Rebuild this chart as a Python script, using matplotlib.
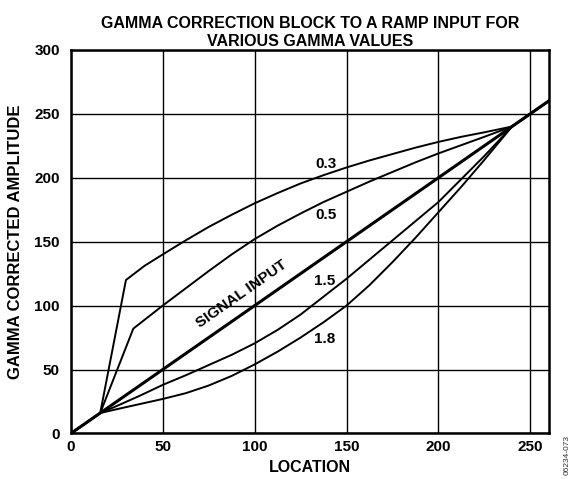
import matplotlib
matplotlib.use("Agg")
import matplotlib.pyplot as plt

plt.rcParams['font.family'] = ['Liberation Sans', 'DejaVu Sans']
plt.rcParams['font.weight'] = 'bold'

# ramp input
sig_x = [0, 260]
sig_y = [0, 260]

# gamma = 0.3
g03_x = [0, 16, 30, 40, 50, 62.5, 75, 87.5, 100, 112.5, 125, 137.5, 150,
         162.5, 175, 187.5, 200, 212.5, 225, 240, 260]
g03_y = [0, 16, 120, 131, 140, 151, 161.5, 171, 180, 188, 195.5, 202, 208,
         213.5, 218.5, 223.5, 228, 232, 235.5, 240, 260]

# gamma = 0.5
g05_x = [0, 16, 34, 50, 62.5, 75, 87.5, 100, 112.5, 125, 137.5, 150,
         162.5, 175, 187.5, 200, 212.5, 225, 240, 260]
g05_y = [0, 16, 82, 100, 113.5, 127, 140, 152, 162.5, 172, 181, 189,
         197, 204.5, 212, 219, 225.5, 232, 240, 260]

# gamma = 1.5
g15_x = [0, 16, 25, 37.5, 50, 62.5, 75, 87.5, 100, 112.5, 125, 137.5, 150,
         162.5, 175, 187.5, 200, 212.5, 225, 240, 260]
g15_y = [0, 16, 21.5, 29.5, 38, 45.5, 53.5, 61.5, 70.5, 81, 93, 107, 121,
         136, 151, 166, 181, 199, 217, 240, 260]

# gamma = 1.8
g18_x = [0, 16, 25, 37.5, 50, 62.5, 75, 87.5, 100, 112.5, 125, 137.5, 150,
         162.5, 175, 187.5, 200, 212.5, 225, 240, 260]
g18_y = [0, 16, 19, 23, 27, 31.5, 37.5, 45, 54, 64, 75, 87, 100,
         116, 134, 153, 173, 193, 214, 240, 260]

xticks = [0, 50, 100, 150, 200, 250]
yticks = [0, 50, 100, 150, 200, 250, 300]

fig = plt.figure(figsize=(5.71, 4.79), dpi=100)
ax = fig.add_axes([0.124, 0.095, 0.837, 0.801])

for xs, ys in [(g03_x, g03_y), (g05_x, g05_y), (g15_x, g15_y), (g18_x, g18_y)]:
    ax.plot(xs, ys, color='black', lw=1.4, zorder=3, solid_joinstyle='round')
ax.plot(sig_x, sig_y, color='black', lw=2.2, zorder=4)

ax.set_xlim(0, 260)
ax.set_ylim(0, 300)
ax.set_xticks(xticks)
ax.set_yticks(yticks)
ax.tick_params(length=0, labelsize=11)
ax.tick_params(axis='x', pad=5)
ax.tick_params(axis='y', pad=8)
for lab in ax.get_xticklabels() + ax.get_yticklabels():
    lab.set_fontweight('bold')
ax.grid(True, color='black', lw=1.0)
ax.set_axisbelow(True)
for s in ax.spines.values():
    s.set_linewidth(1.8)

ax.set_xlabel('LOCATION', fontsize=11.5, fontweight='bold', labelpad=4)
ax.set_ylabel('GAMMA CORRECTED AMPLITUDE', fontsize=12, fontweight='bold', labelpad=8)
ax.set_title('GAMMA CORRECTION BLOCK TO A RAMP INPUT FOR\nVARIOUS GAMMA VALUES',
             fontsize=11.5, fontweight='bold', pad=3, linespacing=1.2)

for txt, x, y in [('0.3', 139, 211), ('0.5', 139, 171), ('1.5', 138, 119), ('1.8', 138, 74)]:
    ax.text(x, y, txt, fontsize=11, fontweight='bold', ha='center', va='center')
ax.text(93, 109, 'SIGNAL INPUT', fontsize=11, fontweight='bold', ha='center',
        va='center', rotation=35)

fig.text(0.993, 0.05, '06234-073', rotation=90, fontsize=6, color='#333333',
         ha='center', va='center', fontweight='normal')

fig.savefig('out.png', dpi=100)
